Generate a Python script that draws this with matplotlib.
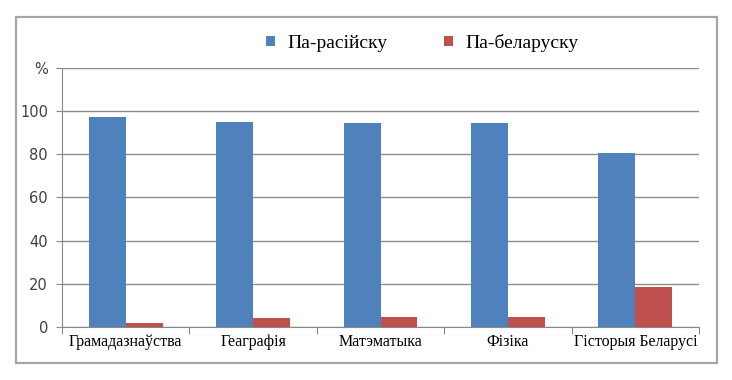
import numpy as np
import matplotlib.pyplot as plt
from matplotlib.patches import Rectangle

# Дадзеныя
subjects = ["Грамадазнаўства", "Геаграфія", "Матэматыка", "Фізіка", "Гісторыя Беларусі"]
ru_values = [97.5, 95.0, 94.5, 94.5, 80.5]
by_values = [1.7, 4.3, 4.8, 4.8, 18.6]
series_names = ["Па-расійску", "Па-беларуску"]

blue = "#4F81BD"
red = "#C0504D"
serif = ["Liberation Serif", "DejaVu Serif"]

fig = plt.figure(figsize=(7.32, 3.80), dpi=100)
ax = fig.add_axes([0.0847, 0.1395, 0.8703, 0.6816])

x = np.arange(len(subjects))
w = 0.29
b1 = ax.bar(x - w / 2, ru_values, width=w, color=blue, zorder=3)
b2 = ax.bar(x + w / 2, by_values, width=w, color=red, zorder=3)

ax.set_xlim(-0.5, len(subjects) - 0.5)
ax.set_ylim(0, 120)

# восі
ax.set_yticks([0, 20, 40, 60, 80, 100, 120])
ax.set_yticklabels(["0", "20", "40", "60", "80", "100", "%"])
ax.tick_params(axis="y", length=4, color="#888888", labelsize=10.5,
               labelcolor="#404040", pad=6)
ax.yaxis.grid(True, color="#8c8c8c", linewidth=1, zorder=0)

ax.set_xticks(np.arange(len(subjects) + 1) - 0.5)
ax.set_xticklabels([])
ax.set_xticks(x, minor=True)
ax.set_xticklabels(subjects, minor=True, fontfamily=serif, fontsize=11.5)
ax.tick_params(axis="x", which="major", length=5, color="#888888")
ax.tick_params(axis="x", which="minor", length=0, pad=5)

for s in ["top", "right"]:
    ax.spines[s].set_visible(False)
ax.spines["left"].set_color("#888888")
ax.spines["bottom"].set_color("#888888")

leg = fig.legend([b1, b2], series_names, loc="center", bbox_to_anchor=(0.577, 0.887),
                 ncol=2, frameon=False, handlelength=0.45, handleheight=0.45,
                 columnspacing=2.9, handletextpad=0.67,
                 prop={"family": serif, "size": 14})

# рамка
fig.patches.append(Rectangle((15.5 / 732, 1 - 363 / 380), 701 / 732, 346.5 / 380,
                             transform=fig.transFigure, fill=False,
                             edgecolor="#a6a6a6", linewidth=1.6))

plt.savefig("out.png", dpi=100)
